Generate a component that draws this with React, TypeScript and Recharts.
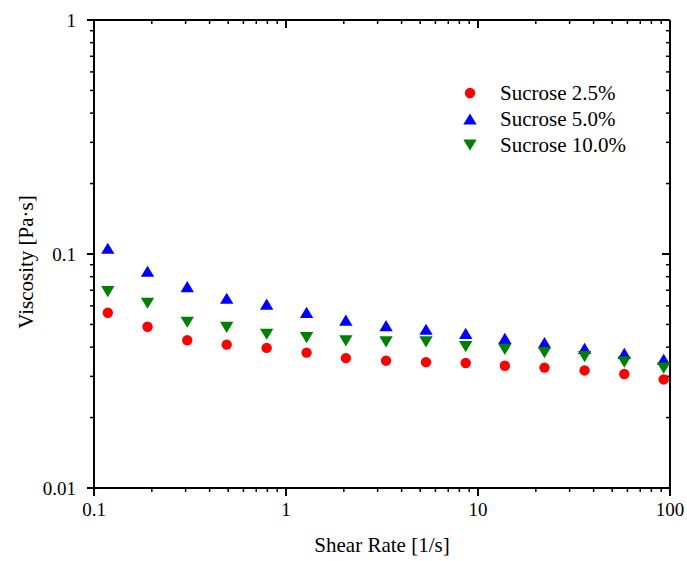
import React from 'react';
import { ScatterChart, Scatter, XAxis, YAxis, Legend } from 'recharts';

// shear rate [1/s]
const shearRate = [0.118, 0.19, 0.306, 0.491, 0.793, 1.28, 2.05, 3.32, 5.36, 8.63, 13.8, 22.2, 35.9, 57.8, 92.7];

// viscosity [Pa·s]
const sucrose25 = [0.0561, 0.0489, 0.0428, 0.041, 0.0397, 0.0379, 0.0359, 0.035, 0.0345, 0.0342, 0.0333, 0.0327, 0.0318, 0.0307, 0.0291];
const sucrose50 = [0.1058, 0.0844, 0.0725, 0.0647, 0.0611, 0.0563, 0.0522, 0.0494, 0.0477, 0.0458, 0.0436, 0.0418, 0.0395, 0.0376, 0.0355];
const sucrose100 = [0.069, 0.0616, 0.0511, 0.0486, 0.0454, 0.0439, 0.0425, 0.0421, 0.0421, 0.0402, 0.0391, 0.0379, 0.0364, 0.0345, 0.0325];

const xMajor = [0.1, 1, 10, 100];
const xMinor = [0.2, 0.3, 0.4, 0.5, 0.6, 0.7, 0.8, 0.9, 2, 3, 4, 5, 6, 7, 8, 9, 20, 30, 40, 50, 60, 70, 80, 90];
const yMajor = [0.01, 0.1, 1];
const yMinor = [0.02, 0.03, 0.04, 0.05, 0.06, 0.07, 0.08, 0.09, 0.2, 0.3, 0.4, 0.5, 0.6, 0.7, 0.8, 0.9];

const FONT = '"Liberation Serif", "Times New Roman", serif';
// axes must have a non-zero size to be drawn; keep them (almost) flat so they don't shift the plot
const THIN = 0.001;

type Kind = 'circle' | 'up' | 'down';

const series: { name: string; values: number[]; color: string; kind: Kind }[] = [
  { name: 'Sucrose 2.5%', values: sucrose25, color: '#ff0000', kind: 'circle' },
  { name: 'Sucrose 5.0%', values: sucrose50, color: '#0000ff', kind: 'up' },
  { name: 'Sucrose 10.0%', values: sucrose100, color: '#008000', kind: 'down' },
];

const Marker = ({ cx, cy, kind, fill }: { cx: number; cy: number; kind: Kind; fill: string }) => {
  if (kind === 'circle') return <circle cx={cx} cy={cy} r={5.2} fill={fill} />;
  const w = 6.7;
  const h = 5.6;
  const pts =
    kind === 'up'
      ? `${cx},${cy - h} ${cx + w},${cy + h} ${cx - w},${cy + h}`
      : `${cx - w},${cy - h} ${cx + w},${cy - h} ${cx},${cy + h}`;
  return <polygon points={pts} fill={fill} />;
};

const renderLegend = () => (
  <div style={{ fontFamily: FONT, fontSize: 21, color: '#000' }}>
    {series.map((s) => (
      <div key={s.name} style={{ display: 'flex', alignItems: 'center', height: 26, lineHeight: '26px' }}>
        <svg width={16} height={16}>
          <Marker cx={8} cy={8} kind={s.kind} fill={s.color} />
        </svg>
        <span style={{ marginLeft: 22, whiteSpace: 'nowrap' }}>{s.name}</span>
      </div>
    ))}
  </div>
);

const YTitle = (props: any) => {
  const vb = props.viewBox;
  const x = vb.x - 68;
  const y = vb.y + vb.height / 2 + 8;
  return (
    <text x={x} y={y} transform={`rotate(-90, ${x}, ${y})`} textAnchor="middle" dominantBaseline="central"
      fontFamily={FONT} fontSize={21} fill="#000">
      Viscosity [Pa·s]
    </text>
  );
};

const XTitle = (props: any) => {
  const vb = props.viewBox;
  return (
    <text x={vb.x + vb.width / 2} y={vb.y + 64} textAnchor="middle" fontFamily={FONT} fontSize={21} fill="#000">
      Shear Rate [1/s]
    </text>
  );
};

const noLabel = () => <g />;
const fmt = (v: number) => String(v);
const major = { stroke: '#000', strokeWidth: 2 };
const minor = { stroke: '#000', strokeWidth: 1.5 };
const tickText = { fontSize: 19, fill: '#000', fontFamily: FONT };

export default function App() {
  return (
    <div style={{ position: 'absolute', left: 0, top: 0, width: 687, height: 561, background: '#fff', fontFamily: FONT }}>
      <ScatterChart width={687} height={561} margin={{ top: 20, right: 17, bottom: 73, left: 94 }}>
        {/* bottom */}
        <XAxis xAxisId="bm" dataKey="x" type="number" scale="log" domain={[0.1, 100]} allowDataOverflow
          ticks={xMinor} interval={0} tick={noLabel} tickSize={4} height={THIN} axisLine={false} tickLine={minor} />
        <XAxis xAxisId="b" dataKey="x" type="number" scale="log" domain={[0.1, 100]} allowDataOverflow
          ticks={xMajor} interval={0} tickFormatter={fmt} tickSize={8} tickMargin={7} height={THIN}
          tick={tickText} axisLine={major} tickLine={major} label={<XTitle />} />
        {/* top */}
        <XAxis xAxisId="tm" orientation="top" mirror dataKey="x" type="number" scale="log" domain={[0.1, 100]}
          allowDataOverflow ticks={xMinor} interval={0} tick={noLabel} tickSize={4} height={THIN} axisLine={false} tickLine={minor} />
        <XAxis xAxisId="t" orientation="top" mirror dataKey="x" type="number" scale="log" domain={[0.1, 100]}
          allowDataOverflow ticks={xMajor} interval={0} tick={noLabel} tickSize={8} height={THIN} axisLine={major} tickLine={major} />
        {/* left */}
        <YAxis yAxisId="lm" dataKey="y" type="number" scale="log" domain={[0.01, 1]} allowDataOverflow
          ticks={yMinor} interval={0} tick={noLabel} tickSize={4} width={THIN} axisLine={false} tickLine={minor} />
        <YAxis yAxisId="l" dataKey="y" type="number" scale="log" domain={[0.01, 1]} allowDataOverflow
          ticks={yMajor} interval={0} tickFormatter={fmt} tickSize={7} tickMargin={11} width={THIN}
          tick={tickText} axisLine={major} tickLine={major} label={<YTitle />} />
        {/* right */}
        <YAxis yAxisId="rm" orientation="right" mirror dataKey="y" type="number" scale="log" domain={[0.01, 1]}
          allowDataOverflow ticks={yMinor} interval={0} tick={noLabel} tickSize={4} width={THIN} axisLine={false} tickLine={minor} />
        <YAxis yAxisId="r" orientation="right" mirror dataKey="y" type="number" scale="log" domain={[0.01, 1]}
          allowDataOverflow ticks={yMajor} interval={0} tick={noLabel} tickSize={8} width={THIN} axisLine={major} tickLine={major} />

        {series.map((s) => (
          <Scatter
            key={s.name}
            name={s.name}
            xAxisId="b"
            yAxisId="l"
            data={shearRate.map((x, i) => ({ x, y: s.values[i] }))}
            fill={s.color}
            isAnimationActive={false}
            shape={(p: any) => <Marker cx={p.cx} cy={p.cy} kind={s.kind} fill={s.color} />}
          />
        ))}

        <Legend layout="vertical" align="center" verticalAlign="middle" content={renderLegend}
          wrapperStyle={{ left: 462, top: 80, width: 'auto', height: 'auto' }} />
      </ScatterChart>
    </div>
  );
}
